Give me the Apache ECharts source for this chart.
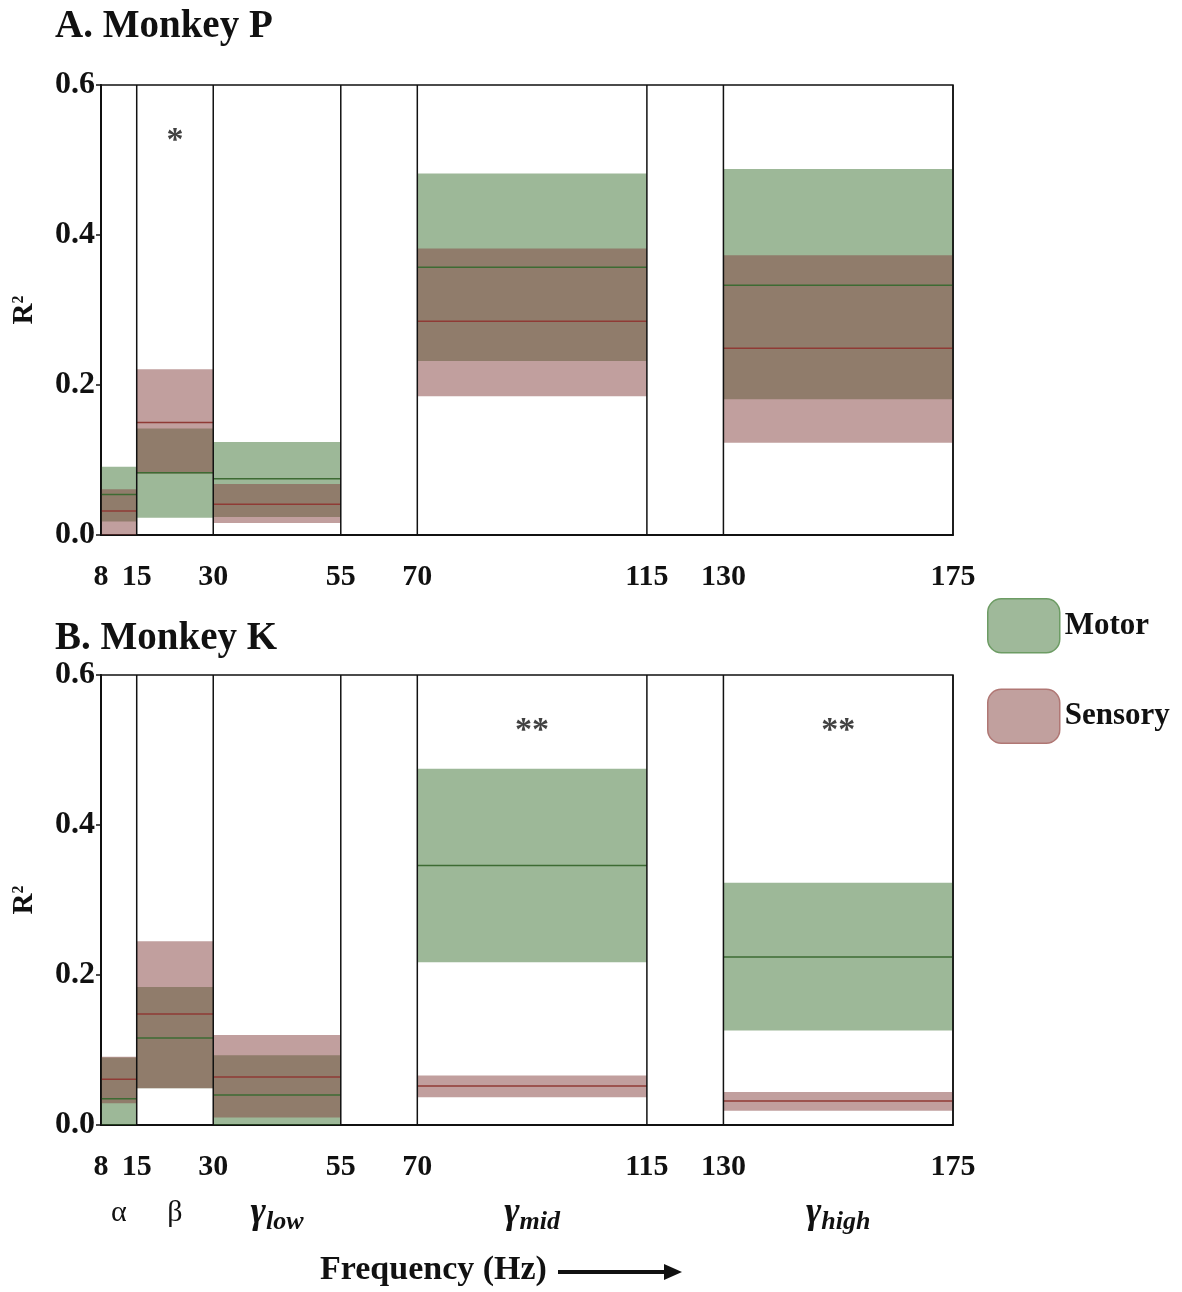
<!DOCTYPE html>
<html>
<head>
<meta charset="utf-8">
<script src="https://cdn.jsdelivr.net/npm/echarts@6/dist/echarts.min.js"></script>
<style>
  html, body { margin: 0; padding: 0; background: #fff; }
  #chart { width: 1182px; height: 1292px; }
</style>
</head>
<body>
<div id="chart"></div>
<script>
// Frequency bands (Hz) and axis ticks
const xTicks = [8, 15, 30, 55, 70, 115, 130, 175];
const bandEdges = [[8, 15], [15, 30], [30, 55], [70, 115], [130, 175]];
const bandNames = ['alpha', 'beta', 'low', 'mid', 'high'];
const yTicks = [0, 0.2, 0.4, 0.6];

// Monkey P: R² ranges (low / median / high) per band
const motorP_low  = [0.018, 0.023, 0.024, 0.232, 0.181];
const motorP_med  = [0.054, 0.083, 0.075, 0.357, 0.333];
const motorP_high = [0.091, 0.142, 0.124, 0.482, 0.488];
const sensP_low   = [0.000, 0.082, 0.016, 0.185, 0.123];
const sensP_med   = [0.032, 0.150, 0.041, 0.285, 0.249];
const sensP_high  = [0.061, 0.221, 0.068, 0.382, 0.373];
const sigP        = ['', '*', '', '', ''];

// Monkey K
const motorK_low  = [0.000, 0.049, 0.000, 0.217, 0.126];
const motorK_med  = [0.035, 0.116, 0.040, 0.346, 0.224];
const motorK_high = [0.090, 0.184, 0.093, 0.475, 0.323];
const sensK_low   = [0.029, 0.049, 0.010, 0.037, 0.019];
const sensK_med   = [0.061, 0.148, 0.064, 0.052, 0.032];
const sensK_high  = [0.091, 0.245, 0.120, 0.066, 0.044];
const sigK        = ['', '', '', '**', '**'];
const sigLevel = 0.525;

const FONT = '"Liberation Serif", "DejaVu Serif", serif';
const MOTOR_FILL = 'rgba(60,114,50,0.5)';
const SENS_FILL = 'rgba(131,64,61,0.5)';
const MOTOR_LINE = '#3d6b33';
const SENS_LINE = '#8f3a35';

function bandData(lo, hi) {
  return bandEdges.map((e, i) => [e[0], e[1], lo[i], hi[i]]);
}
function medData(med) {
  return bandEdges.map((e, i) => [e[0], e[1], med[i]]);
}

function rectRender(fill) {
  return function (params, api) {
    const p0 = api.coord([api.value(0), api.value(3)]);
    const p1 = api.coord([api.value(1), api.value(2)]);
    return {
      type: 'rect',
      shape: { x: p0[0], y: p0[1], width: p1[0] - p0[0], height: p1[1] - p0[1] },
      style: { fill: fill }
    };
  };
}
function lineRender(color) {
  return function (params, api) {
    const p0 = api.coord([api.value(0), api.value(2)]);
    const p1 = api.coord([api.value(1), api.value(2)]);
    return {
      type: 'line',
      shape: { x1: p0[0], y1: p0[1], x2: p1[0], y2: p1[1] },
      style: { stroke: color, lineWidth: 1.6 }
    };
  };
}
function dividerRender(params, api) {
  const x = api.value(0);
  const p0 = api.coord([x, 0]);
  const p1 = api.coord([x, 0.6]);
  return {
    type: 'line',
    shape: { x1: p0[0], y1: p0[1], x2: p1[0], y2: p1[1] },
    style: { stroke: '#111', lineWidth: 1.5 }
  };
}

function panelSeries(gi, mLo, mMed, mHi, sLo, sMed, sHi, sig) {
  return [
    { type: 'custom', name: 'Motor', xAxisIndex: gi, yAxisIndex: gi, z: 1,
      renderItem: rectRender(MOTOR_FILL), encode: { x: [0, 1], y: [2, 3] },
      data: bandData(mLo, mHi), silent: true },
    { type: 'custom', name: 'Sensory', xAxisIndex: gi, yAxisIndex: gi, z: 2,
      renderItem: rectRender(SENS_FILL), encode: { x: [0, 1], y: [2, 3] },
      data: bandData(sLo, sHi), silent: true },
    { type: 'custom', name: 'Motor median', xAxisIndex: gi, yAxisIndex: gi, z: 3,
      renderItem: lineRender(MOTOR_LINE), encode: { x: [0, 1], y: 2 },
      data: medData(mMed), silent: true },
    { type: 'custom', name: 'Sensory median', xAxisIndex: gi, yAxisIndex: gi, z: 3,
      renderItem: lineRender(SENS_LINE), encode: { x: [0, 1], y: 2 },
      data: medData(sMed), silent: true },
    { type: 'custom', name: 'dividers', xAxisIndex: gi, yAxisIndex: gi, z: 4,
      renderItem: dividerRender, encode: { x: 0 },
      data: xTicks.map(v => [v]), silent: true },
    { type: 'scatter', name: 'significance', xAxisIndex: gi, yAxisIndex: gi, z: 5,
      symbolSize: 0, silent: true,
      data: bandEdges.map((e, i) => ({ value: [(e[0] + e[1]) / 2, sigLevel], sig: sig[i] }))
        .filter(d => d.sig),
      label: {
        show: true, position: 'inside',
        formatter: p => p.data.sig,
        fontFamily: FONT, fontWeight: 'bold', fontSize: 34, color: '#111'
      }
    }
  ];
}

const grids = [
  { left: 101, top: 85, width: 852, height: 450 },
  { left: 101, top: 675, width: 852, height: 450 }
];

function xAxisFor(gi) {
  return {
    type: 'value', gridIndex: gi, min: 8, max: 175,
    axisLine: { show: true, lineStyle: { color: '#111', width: 2 } },
    axisTick: { show: false },
    splitLine: { show: false },
    axisLabel: {
      customValues: xTicks, margin: 27,
      fontFamily: FONT, fontWeight: 'bold', fontSize: 30, color: '#111'
    }
  };
}
function yAxisFor(gi) {
  return {
    type: 'value', gridIndex: gi, min: 0, max: 0.6, interval: 0.2,
    name: '{r|R}{s|2}', nameLocation: 'middle', nameRotate: 90, nameGap: 62,
    nameTextStyle: {
      rich: {
        r: { fontFamily: FONT, fontWeight: 'bold', fontSize: 29, color: '#111', lineHeight: 28 },
        s: { fontFamily: FONT, fontWeight: 'bold', fontSize: 16, color: '#111', verticalAlign: 'top', lineHeight: 28 }
      }
    },
    axisLine: { show: true, lineStyle: { color: '#111', width: 2 } },
    axisTick: { show: true, length: 5, lineStyle: { color: '#111', width: 1.5 } },
    splitLine: { show: false },
    axisLabel: {
      margin: 6, formatter: v => v.toFixed(1),
      fontFamily: FONT, fontWeight: 'bold', fontSize: 32, color: '#111'
    }
  };
}

const bandCenters = bandEdges.map(e => (e[0] + e[1]) / 2);
const greekAxis = {
  type: 'value', gridIndex: 1, min: 8, max: 175, position: 'bottom',
  axisLine: { show: false }, axisTick: { show: false }, splitLine: { show: false },
  axisLabel: {
    customValues: bandCenters, margin: 70,
    formatter: function (v) {
      let idx = 0, best = Infinity;
      bandCenters.forEach((c, i) => { const d = Math.abs(c - v); if (d < best) { best = d; idx = i; } });
      const n = bandNames[idx];
      if (n === 'alpha') return '{p|α}';
      if (n === 'beta') return '{p|β}';
      return '{g|γ}{s|' + n + '}';
    },
    rich: {
      p: { fontFamily: FONT, fontSize: 30, color: '#111', lineHeight: 36 },
      g: { fontFamily: FONT, fontSize: 37, fontStyle: 'italic', fontWeight: 'bold', color: '#111', lineHeight: 36 },
      s: { fontFamily: FONT, fontSize: 26, fontStyle: 'italic', fontWeight: 'bold', color: '#111',
           verticalAlign: 'bottom', lineHeight: 36, padding: [0, 0, -4, 0] }
    }
  }
};

const chart = echarts.init(document.getElementById('chart'), null, { renderer: 'canvas' });
chart.setOption({
  backgroundColor: '#fff',
  animation: false,
  title: [
    { text: 'A. Monkey P', left: 50, top: 2,
      textStyle: { fontFamily: FONT, fontWeight: 'bold', fontSize: 39, color: '#111' } },
    { text: 'B. Monkey K', left: 50, top: 614,
      textStyle: { fontFamily: FONT, fontWeight: 'bold', fontSize: 39, color: '#111' } }
  ],
  legend: {
    orient: 'vertical', left: 982, top: 593,
    itemWidth: 72, itemHeight: 54, itemGap: 35, icon: 'roundRect',
    selectedMode: false,
    textStyle: { fontFamily: FONT, fontWeight: 'bold', fontSize: 31, color: '#111' },
    data: [
      { name: 'Motor', itemStyle: { color: '#9fb99a', borderColor: '#6d9c64', borderWidth: 1.5 } },
      { name: 'Sensory', itemStyle: { color: '#c1a09e', borderColor: '#b07774', borderWidth: 1.5 } }
    ]
  },
  grid: grids.map(g => Object.assign({ show: true, borderColor: '#111', borderWidth: 1.5, backgroundColor: 'transparent' }, g)),
  xAxis: [xAxisFor(0), xAxisFor(1), greekAxis],
  yAxis: [yAxisFor(0), yAxisFor(1)],
  series: [].concat(
    panelSeries(0, motorP_low, motorP_med, motorP_high, sensP_low, sensP_med, sensP_high, sigP),
    panelSeries(1, motorK_low, motorK_med, motorK_high, sensK_low, sensK_med, sensK_high, sigK)
  ),
  graphic: [
    { type: 'text', left: 320, top: 1253,
      style: { text: 'Frequency (Hz)', font: 'bold 34px ' + FONT, fill: '#111' } },
    { type: 'line', shape: { x1: 558, y1: 1272, x2: 668, y2: 1272 },
      style: { stroke: '#111', lineWidth: 4 } },
    { type: 'polygon', shape: { points: [[664, 1264], [682, 1272], [664, 1280]] },
      style: { fill: '#111' } }
  ]
});
</script>
</body>
</html>
